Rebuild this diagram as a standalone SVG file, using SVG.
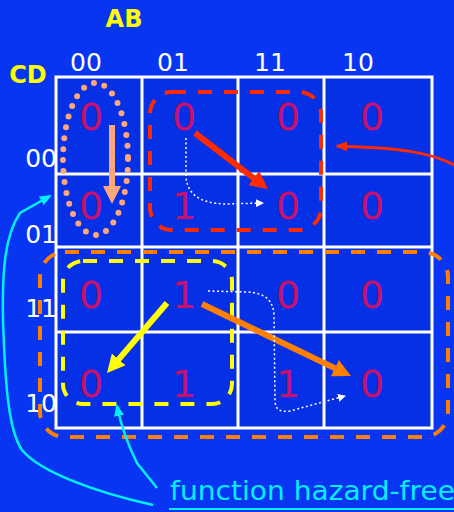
<svg xmlns="http://www.w3.org/2000/svg" width="454" height="512" viewBox="0 0 454 512">
<defs>
<style>
.hdr{font-family:"DejaVu Sans","Liberation Sans",sans-serif;font-weight:bold;font-size:24px;fill:#ffff00}
.lbl{font-family:"DejaVu Sans","Liberation Sans",sans-serif;font-size:25px;fill:#ffffff}
.dig{font-family:"DejaVu Sans","Liberation Sans",sans-serif;font-size:38px;fill:#c8106c;text-anchor:middle}
.grid{stroke:#ffffff;stroke-width:3;fill:none}
.loop{fill:none;stroke-width:4;stroke-dasharray:14 12}
.thick{fill:none;stroke-width:6}
.dotw{fill:none;stroke:#ffffff;stroke-width:1.5;stroke-dasharray:2 2.5}
.cyan{fill:none;stroke:#00f0ff;stroke-width:2.5}
</style>
<marker id="mRed" markerUnits="userSpaceOnUse" markerWidth="18" markerHeight="18" refX="8" refY="9" orient="auto"><path d="M0,0 L18,9 L0,18 z" fill="#ff2a00"/></marker>
<marker id="mYel" markerUnits="userSpaceOnUse" markerWidth="18" markerHeight="18" refX="8" refY="9" orient="auto"><path d="M0,0 L18,9 L0,18 z" fill="#ffff00"/></marker>
<marker id="mOrg" markerUnits="userSpaceOnUse" markerWidth="18" markerHeight="18" refX="8" refY="9" orient="auto"><path d="M0,0 L18,9 L0,18 z" fill="#ff8000"/></marker>
<marker id="mPch" markerUnits="userSpaceOnUse" markerWidth="18" markerHeight="18" refX="8" refY="9" orient="auto"><path d="M0,0 L18,9 L0,18 z" fill="#ffa77a"/></marker>
<marker id="mWht" markerUnits="userSpaceOnUse" markerWidth="8" markerHeight="8" refX="7" refY="4" orient="auto"><path d="M0,0 L8,4 L0,8 z" fill="#ffffff"/></marker>
<marker id="mRedS" markerUnits="userSpaceOnUse" markerWidth="12" markerHeight="10" refX="10" refY="5" orient="auto"><path d="M0,0 L12,5 L0,10 z" fill="#ff2a00"/></marker>
<marker id="mCyan" markerUnits="userSpaceOnUse" markerWidth="12" markerHeight="10" refX="10" refY="5" orient="auto"><path d="M0,0 L12,5 L0,10 z" fill="#00f0ff"/></marker>
</defs>
<rect x="0" y="0" width="454" height="512" fill="#0735f2"/>
<rect x="56" y="77" width="376" height="351" fill="#0530e6"/>

<g id="headers">
<text class="hdr" x="124" y="27" text-anchor="middle">AB</text>
<text class="hdr" x="28" y="83" text-anchor="middle">CD</text>
<text class="lbl" x="86" y="71" text-anchor="middle">00</text>
<text class="lbl" x="173" y="71" text-anchor="middle">01</text>
<text class="lbl" x="270" y="71" text-anchor="middle">11</text>
<text class="lbl" x="358" y="71" text-anchor="middle">10</text>
<text class="lbl" x="57" y="167" text-anchor="end">00</text>
<text class="lbl" x="57" y="243" text-anchor="end">01</text>
<text class="lbl" x="57" y="317" text-anchor="end">11</text>
<text class="lbl" x="57" y="412" text-anchor="end">10</text>
</g>

<g id="grid">
<rect class="grid" x="56" y="77" width="376" height="351"/>
<line class="grid" x1="142" y1="77" x2="142" y2="428"/>
<line class="grid" x1="238" y1="77" x2="238" y2="428"/>
<line class="grid" x1="324" y1="77" x2="324" y2="428"/>
<line class="grid" x1="56" y1="174" x2="432" y2="174"/>
<line class="grid" x1="56" y1="247" x2="432" y2="247"/>
<line class="grid" x1="56" y1="332" x2="432" y2="332"/>
</g>

<g id="cells">
<text class="dig" x="91" y="130">0</text>
<text class="dig" x="184" y="130">0</text>
<text class="dig" x="288" y="130">0</text>
<text class="dig" x="372" y="130">0</text>
<text class="dig" x="91" y="219">0</text>
<text class="dig" x="184" y="219">1</text>
<text class="dig" x="288" y="219">0</text>
<text class="dig" x="372" y="219">0</text>
<text class="dig" x="91" y="308">0</text>
<text class="dig" x="184" y="308">1</text>
<text class="dig" x="288" y="308">0</text>
<text class="dig" x="372" y="308">0</text>
<text class="dig" x="91" y="397">0</text>
<text class="dig" x="184" y="397">1</text>
<text class="dig" x="288" y="397">1</text>
<text class="dig" x="372" y="397">0</text>
</g>

<g id="loops">
<ellipse id="loop-peach" cx="95.5" cy="159" rx="32.5" ry="76" fill="none" stroke="#ffa77a" stroke-width="6" stroke-linecap="round" stroke-dasharray="0 11"/>
<rect id="loop-red" class="loop" x="150" y="92" width="171" height="138" rx="22" stroke="#ff2a00"/>
<rect id="loop-orange" class="loop" x="40" y="252" width="408" height="185" rx="25" stroke="#ff8000"/>
<rect id="loop-yellow" class="loop" x="63" y="261" width="169" height="143" rx="20" stroke="#ffff00"/>
</g>

<g id="connectors">
<line class="thick" x1="112" y1="125" x2="112" y2="194" stroke="#ffa77a" marker-end="url(#mPch)"/>
<line class="thick" x1="195" y1="133" x2="260" y2="183" stroke="#ff2a00" marker-end="url(#mRed)"/>
<line class="thick" x1="167" y1="303" x2="113.5" y2="365.4" stroke="#ffff00" marker-end="url(#mYel)"/>
<line class="thick" x1="202" y1="304" x2="342" y2="371.6" stroke="#ff8000" marker-end="url(#mOrg)"/>
<path class="dotw" d="M186,138 L186,177 Q188,203 225,204 L263,203" marker-end="url(#mWht)"/>
<path class="dotw" d="M208,291 L247,292 C265,293 273,300 274,315 L275,400 C275,410 280,412 290,411 L345,396" marker-end="url(#mWht)"/>
<path d="M454,165 C430,152 400,148 337,146" fill="none" stroke="#ff2a00" stroke-width="3" marker-end="url(#mRedS)"/>
<path class="cyan" d="M153,505 C95,492 40,472 22,450 C8,430 5,380 3,320 C2,270 5,235 20,213 L50,196" marker-end="url(#mCyan)"/>
<path class="cyan" d="M157,488 L137,463 C128,445 122,430 117,406" marker-end="url(#mCyan)"/>
</g>

<g id="note">
<text x="170" y="500" font-family="DejaVu Sans, Liberation Sans, sans-serif" font-size="27" fill="#00f0ff" textLength="285" lengthAdjust="spacingAndGlyphs">function hazard-free</text>
<line x1="169" y1="509" x2="454" y2="509" stroke="#00f0ff" stroke-width="2"/>
</g>
</svg>
